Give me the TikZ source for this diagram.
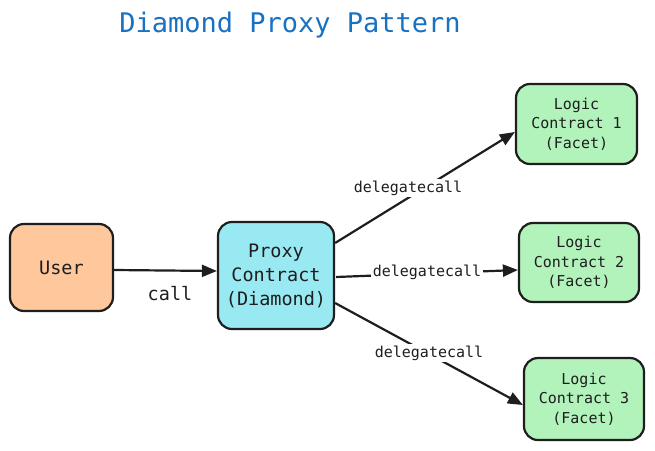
\documentclass[tikz,border=0pt]{standalone}
\usepackage{fontspec}
\setmonofont{DejaVu Sans Mono}
\usetikzlibrary{arrows.meta}
\definecolor{ink}{HTML}{1E1E1E}
\definecolor{peach}{HTML}{FFC89C}
\definecolor{cyanfill}{HTML}{99E9F2}
\definecolor{greenfill}{HTML}{B2F2BB}
\definecolor{titleblue}{HTML}{1971C2}
\tikzset{
  box/.style={draw=ink, line width=2.2pt, rounded corners=14pt, align=center, font=\ttfamily, text=ink, inner sep=0pt},
  userbox/.style={box, fill=peach, minimum width=103pt, minimum height=87pt, font=\ttfamily\fontsize{18.5}{22}\selectfont},
  proxybox/.style={box, fill=cyanfill, minimum width=116pt, minimum height=107pt, font=\ttfamily\fontsize{18.5}{24}\selectfont},
  facetbox/.style={box, fill=greenfill, minimum width=120pt, minimum height=80pt, font=\ttfamily\fontsize{15}{19.5}\selectfont},
  conn/.style={draw=ink, line width=2.2pt, -{Triangle[length=15pt,width=12pt]}},
  lbl/.style={font=\ttfamily\fontsize{15}{18}\selectfont, text=ink, fill=white, inner sep=1.5pt},
  calllbl/.style={font=\ttfamily\fontsize{18.5}{22}\selectfont, text=ink, inner sep=0pt}
}
\begin{document}
\begin{tikzpicture}[x=1pt,y=-1pt]
\useasboundingbox (0,0) rectangle (655,450);
\node[font=\ttfamily\fontsize{27}{32}\selectfont, text=titleblue] (title) at (290,25) {Diamond Proxy Pattern};
\node[userbox] (U) at (61.5,267.5) {User};
\node[proxybox] (P) at (276,275.5) {Proxy\\Contract\\(Diamond)};
\node[facetbox, minimum width=121pt] (L1) at (576.5,124) {Logic\\Contract 1\\(Facet)};
\node[facetbox, minimum height=79pt] (L2) at (579,262.5) {Logic\\Contract 2\\(Facet)};
\node[facetbox, minimum height=82pt] (L3) at (584,399) {Logic\\Contract 3\\(Facet)};
\draw[conn] ([yshift=-2.5pt]U.east) -- ([yshift=4.5pt]P.west);
\node[calllbl] (c0) at (170,294) {call};
\draw[conn] ([yshift=32.5pt]P.east) -- ([yshift=-8pt]L1.west);
\node[lbl] (c1) at (408,188) {delegatecall};
\draw[conn] ([yshift=-1.5pt,xshift=1pt]P.east) -- ([yshift=-7.5pt]L2.west);
\node[lbl] (c2) at (427,272) {delegatecall};
\draw[conn] ([yshift=-27.5pt]P.east) -- ([yshift=-6pt]L3.west);
\node[lbl] (c3) at (429,353) {delegatecall};
\end{tikzpicture}
\end{document}
